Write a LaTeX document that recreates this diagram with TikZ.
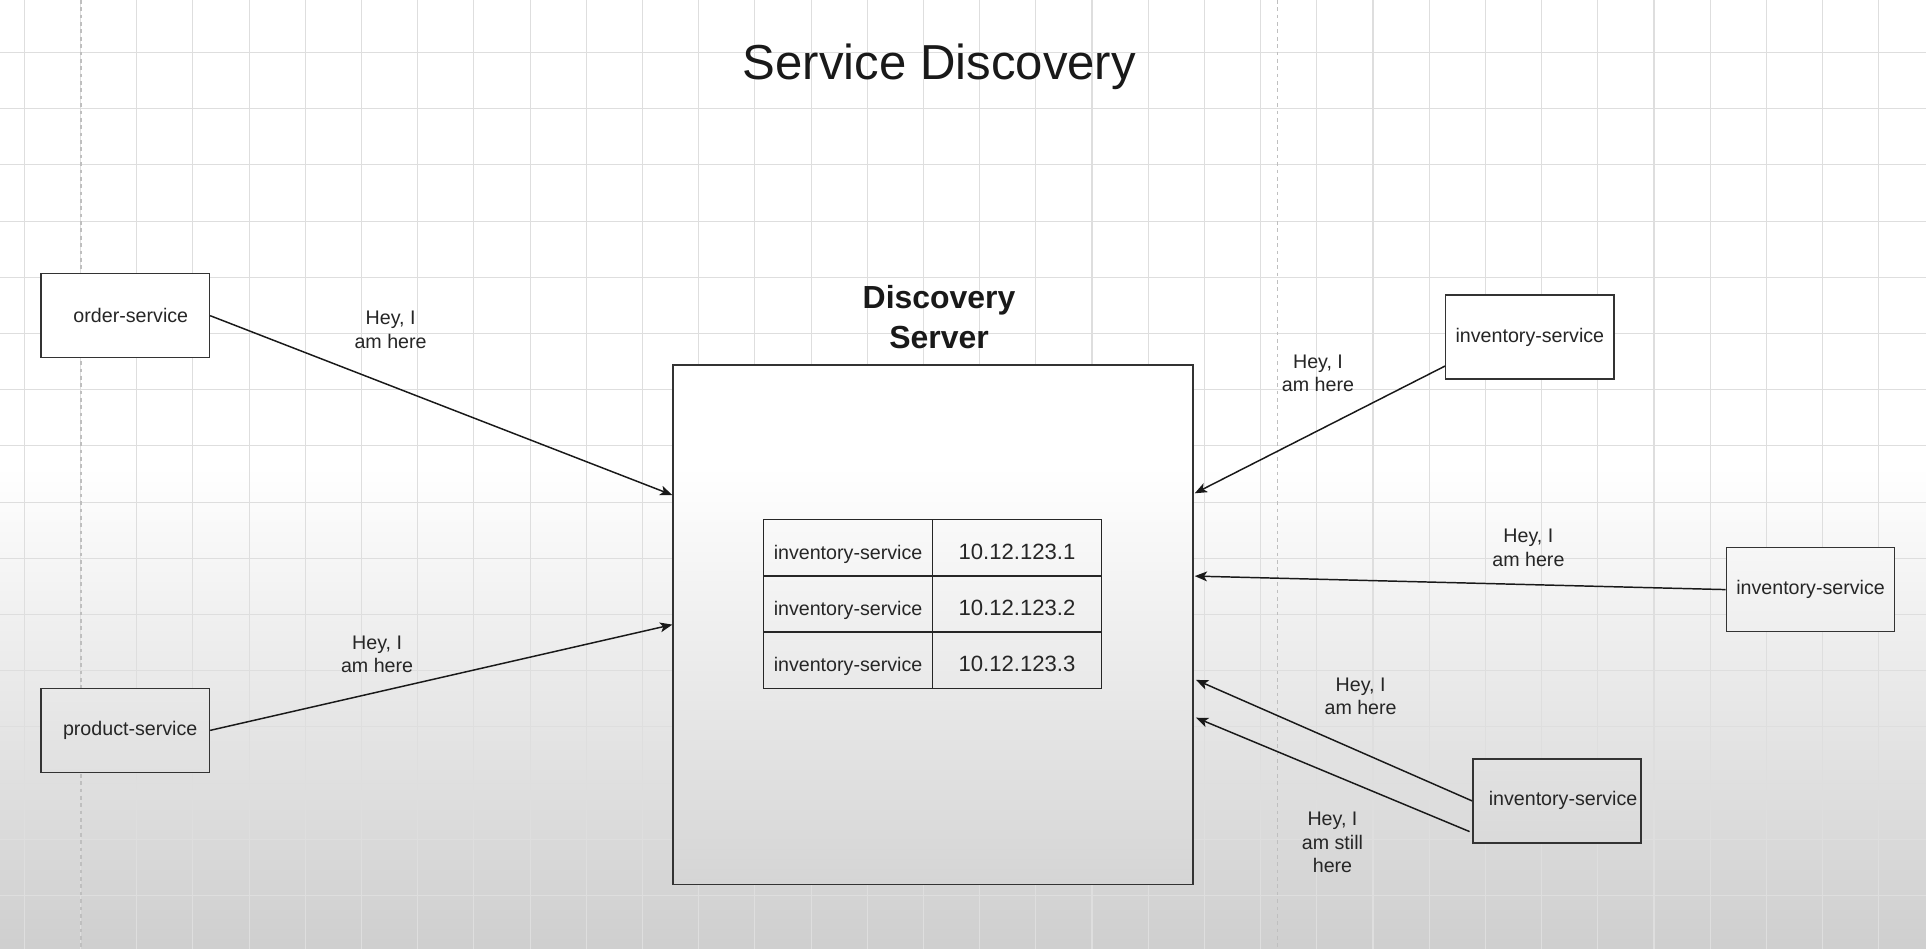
\documentclass[tikz,border=0pt]{standalone}
\usepackage{fontspec}
\setmainfont{Liberation Sans}
\usetikzlibrary{arrows.meta}

\begin{document}
\begin{tikzpicture}[x=1pt,y=-1pt]
    \tikzstyle{arrow} = [line width=1.2pt,draw=black!90,-{Stealth[length=10pt,width=8pt,inset=2.5pt]}]
    \tikzstyle{service} = [draw=black!80, line width=1.2pt, fill=white, minimum width=137pt, minimum height=68.5pt, inner sep=0pt, text=black!85, font=\fontsize{16}{19}\selectfont]
    \tikzstyle{cell} = [draw=black!85, line width=1.2pt, minimum width=137.5pt, minimum height=45.8pt, inner sep=0pt, text height=18.8pt, text depth=0pt, text=black!85]
    \tikzstyle{msg} = [align=center, text=black!85, font=\fontsize{16}{19}\selectfont]
    \tikzstyle{gridline} = [black!13, line width=0.9pt]

    % Page, grey towards the bottom, and background grid
    \useasboundingbox (0,0) rectangle (1568,772);
    \fill [white] (0,0) rectangle (1568,380);
    \shade [top color=white, bottom color=black!19] (0,380) rectangle (1568,772);
    \draw [gridline, step=45.75pt, xshift=19.8pt, yshift=3pt] (-60,800) grid (1600,-60);
    \draw [black!25, dashed, line width=1pt] (66,0) -- (66,772);
    \draw [black!25, dashed, line width=1pt] (1040,0) -- (1040,772);

    % Title
    \node [anchor=base, text=black!90, font=\fontsize{40}{48}\selectfont] (Title) at (764.8,65) {Service Discovery};

    % Discovery server in the middle
    \fill [white] (548,297) rectangle (971,380);
    \shade [top color=white, bottom color=black!16.5] (548,380) rectangle (971,720);
    \node [draw=black!80, line width=1.3pt, minimum width=423pt, minimum height=423pt, inner sep=0pt] (Server) at (759.5,508.5) {};
    \node [align=center, text=black!90, font=\fontsize{26}{32.6}\selectfont\bfseries] (ServerTitle) at (764.5,258) {Discovery\\Server};

      % Registry table, first row
      \node [cell, font=\fontsize{16}{19}\selectfont] (RowOneName) at (690.4,446) {inventory-service};
      \node [cell, font=\fontsize{18}{21}\selectfont] (RowOneIp) at (827.9,446) {10.12.123.1};

      % Registry table, second row
      \node [cell, font=\fontsize{16}{19}\selectfont] (RowTwoName) at (690.4,491.8) {inventory-service};
      \node [cell, font=\fontsize{18}{21}\selectfont] (RowTwoIp) at (827.9,491.8) {10.12.123.2};

      % Registry table, third row
      \node [cell, font=\fontsize{16}{19}\selectfont] (RowThreeName) at (690.4,537.6) {inventory-service};
      \node [cell, font=\fontsize{18}{21}\selectfont] (RowThreeIp) at (827.9,537.6) {10.12.123.3};

    % Left side, top service
    \node [service] (OrderService) at (102,257) {\hspace*{9pt}order-service};
    \draw [arrow] (OrderService.east) -- ([yshift=105.5pt]Server.west);
    \node [msg] (OrderMsg) at (318,268.5) {Hey, I\\am here};

    % Left side, bottom service
    \node [service, top color=black!8.7, bottom color=black!12.1] (ProductService) at (102,594.6) {\hspace*{8pt}product-service};
    \draw [arrow] (ProductService.east) -- (Server.west);
    \node [msg] (ProductMsg) at (307,532.6) {Hey, I\\am here};

    % Right side, top instance
    \node [service] (InvTop) at (1245.5,274.4) {inventory-service};
    \draw [arrow] ([yshift=-23.6pt]InvTop.west) -- ([yshift=106.9pt,xshift=1pt]Server.east);
    \node [msg] (InvTopMsg) at (1073,304) {Hey, I\\am here};

    % Right side, middle instance
    \node [service, top color=black!3.2, bottom color=black!6.5] (InvMid) at (1474,480) {inventory-service};
    \draw [arrow] (InvMid.west) -- ([yshift=39.5pt,xshift=1pt]Server.east);
    \node [msg] (InvMidMsg) at (1244.3,446) {Hey, I\\am here};

    % Right side, bottom instance, registers and then renews
    \node [service, top color=black!11.5, bottom color=black!14.8] (InvBottom) at (1267.5,652) {\hspace*{10pt}inventory-service};
    \draw [arrow] (InvBottom.west) -- ([yshift=-45pt,xshift=2pt]Server.east);
    \node [msg] (InvBottomMsg) at (1107.7,567) {Hey, I\\am here};
    \draw [arrow] ([yshift=-25pt,xshift=-2pt]InvBottom.west) -- ([yshift=-75.8pt,xshift=2pt]Server.east);
    \node [msg] (InvBottomRenew) at (1084.8,686) {Hey, I\\am still\\here};
\end{tikzpicture}
\end{document}
